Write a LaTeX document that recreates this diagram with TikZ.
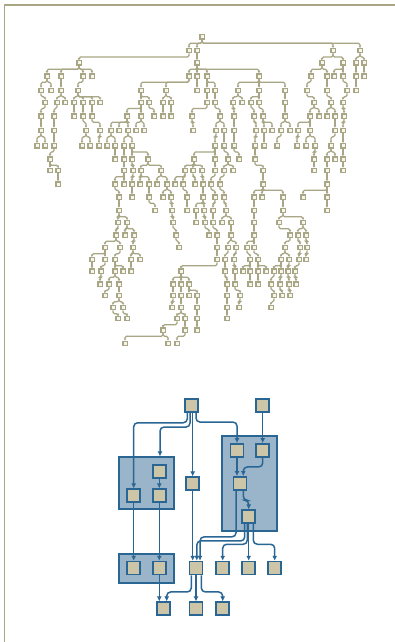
\documentclass[tikz,border=0pt]{standalone}
\usetikzlibrary{arrows.meta}
\definecolor{ol}{RGB}{168,166,132}
\definecolor{olfill}{RGB}{247,246,238}
\definecolor{bl}{RGB}{42,102,148}
\definecolor{clf}{RGB}{154,180,201}
\definecolor{nf}{RGB}{204,197,168}
\newcommand\setrow[3]{\expandafter\gdef\csname rx#1\endcsname{#3}\expandafter\gdef\csname ry#1\endcsname{#2}}
\setrow{0}{37}{202}
\setrow{1}{50.7}{189,197,333,360}
\setrow{2}{63}{79,197,322,343,356,364}
\setrow{3}{76}{47,61,83,92,189,197,207,259,311,327,334,343,356,364}
\setrow{4}{90.5}{41,51,61,78,141,166,197,207,215,238,259,285,307,327,347,356}
\setrow{5}{102.3}{45,57,65,74,83,92,100,141,149,163,171,207,215,233,242,251,259,285,314,331,343}
\setrow{6}{116}{41,54,74,83,92,127,141,154,163,171,192,220,234,254,263,285,310,319,327,335,344}
\setrow{7}{130.5}{41,54,86,100,111,119,128,136,144,193,216,224,234,256,264,272,281,290,298,310,335,343}
\setrow{8}{145.7}{37,45,54,82,90,99,107,115,124,132,215,224,234,255,264,277,297,306,315,331,343}
\setrow{9}{159}{50,115,124,132,148,194,215,228,239,255,314,327,335,343}
\setrow{10}{170.5}{50,58,124,133,141,161,185,193,202,215,224,233,263,314,327,343}
\setrow{11}{184}{58,115,124,132,140,149,157,167,175,183,195,203,211,220,263,327}
\setrow{12}{197}{119,132,149,163,171,187,203,215,224,254,262,283,303,327}
\setrow{13}{210.5}{119,155,172,187,196,204,213,226,254,283,327}
\setrow{14}{222.5}{118,127,173,196,205,213,222,231,254,279,303}
\setrow{15}{235}{116,125,134,176,209,217,231,254,290,298,306}
\setrow{16}{247.5}{105,120,133,179,217,228,236,247,254,285,300,307}
\setrow{17}{259.5}{92,105,115,131,140,217,225,234,250,258,281,289,299,306}
\setrow{18}{271}{92,101,115,123,131,181,225,235,243,250,258,266,274,281,288,295}
\setrow{19}{284}{100,109,119,173,181,189,227,235,250,258,271,280,289,296}
\setrow{20}{295.5}{105,119,173,181,189,197,227,240,274,282,290}
\setrow{21}{307.5}{113,123,172,181,197,227,239,271}
\setrow{22}{318.5}{118,127,177,185,197,227}
\setrow{23}{330}{163,185,197}
\setrow{24}{343.3}{125,168,177}
\begin{document}
\begin{tikzpicture}[x=1pt,y=-1pt,
  tn/.style={draw=ol,fill=olfill,line width=1.3pt,minimum size=4.3pt,inner sep=0pt},
  te/.style={draw=ol,line width=1.25pt,rounded corners=1.5pt,-{Latex[length=2pt,width=2.8pt]}},
  bn/.style={draw=bl,fill=nf,line width=1.5pt,minimum size=13pt,inner sep=0pt},
  cl/.style={draw=bl,fill=clf,line width=1.7pt,inner sep=0pt},
  be/.style={draw=bl,line width=1.5pt,rounded corners=4pt,-{Latex[length=5pt,width=5pt]}},
  frame/.style={draw=ol,line width=1.3pt}]
\useasboundingbox (0,0) rectangle (395,642);
\fill[white] (0,0) rectangle (395,642);
\draw[frame] (4.5,642) -- (4.5,5) -- (395,5);
% ---------- top graph: nodes ----------
\foreach \r in {0,...,24}{
  \edef\ys{\csname ry\r\endcsname}
  \edef\xs{\csname rx\r\endcsname}
  \foreach \x [count=\i] in \xs { \node[tn] (n-\r-\i) at (\x,\ys) {}; }
}
% ---------- top graph: edges (each node to nearest node of the row above) ----------
\foreach \r in {1,...,24}{
  \pgfmathtruncatemacro\prv{\r-1}
  \edef\xs{\csname rx\r\endcsname}
  \edef\pxs{\csname rx\prv\endcsname}
  \foreach \x [count=\i] in \xs {
    \gdef\bestj{1}\gdef\bestd{9999}
    \foreach \px [count=\j] in \pxs {
      \pgfmathsetmacro\mydist{abs(\x-\px)}
      \ifdim\mydist pt<\bestd pt \xdef\bestj{\j}\xdef\bestd{\mydist}\fi
    }
    \draw[te] (n-\prv-\bestj.south) -- ++(0,3.5) -| (n-\r-\i.north);
  }
}
% ---------- bottom graph ----------
\node[cl, minimum width=54.7pt, minimum height=52pt] (K1) at (146.65,483.3) {};
\node[cl, minimum width=54.7pt, minimum height=95pt] (K3) at (249.35,483.2) {};
\node[cl, minimum width=54.7pt, minimum height=29.3pt] (K2) at (146.65,568.65) {};
\node[bn] (A) at (191.3,405.5) {};
\node[bn] (B) at (262.7,405.5) {};
\node[bn] (C1) at (159.3,471.3) {};
\node[bn] (C2) at (133.7,495.7) {};
\node[bn] (C3) at (159.3,495.7) {};
\node[bn] (D) at (192.7,483.7) {};
\node[bn] (E1) at (237,450.3) {};
\node[bn] (E2) at (262.7,450.3) {};
\node[bn] (F) at (240,483.3) {};
\node[bn] (G) at (248.7,516.7) {};
\node[bn] (H1) at (133.7,568) {};
\node[bn] (H2) at (159.3,568) {};
\node[bn] (I) at (196,568) {};
\node[bn] (J) at (222.7,568) {};
\node[bn] (K) at (248.7,568) {};
\node[bn] (L) at (274.7,568) {};
\node[bn] (M) at (163.3,608.7) {};
\node[bn] (N) at (196,608.7) {};
\node[bn] (O) at (222.7,608.7) {};
\draw[be] ([xshift=-4]A.south) -- ++(0,10) -| (C2.north);
\draw[be] ([xshift=-1.3]A.south) -- ++(0,14.3) -| ([xshift=13.35]K1.north);
\draw[be] ([xshift=1.4]A.south) -- (D.north);
\draw[be] ([xshift=4.7]A.south) -- ++(0,9.3) -| (E1.north);
\draw[be] (B.south) -- (E2.north);
\draw[be] (E1.south) -- (E1.south |- F.north);
\draw[be] (E2.south) -- ++(0,9.4) -| ([xshift=3.3]F.north);
\draw[be] ([xshift=3.3]F.south) -- ++(0,9.7) -| (G.north);
\draw[be] ([xshift=-4]F.south) -- ++(0,46.3) -| ([xshift=4]I.north);
\draw[be] ([xshift=-4]G.south) -- ++(0,17) -| ([xshift=0.8]I.north);
\draw[be] ([xshift=-1.4]G.south) -- ++(0,20.3) -| (J.north);
\draw[be] (G.south) -- (K.north);
\draw[be] ([xshift=4.6]G.south) -- ++(0,20.3) -| (L.north);
\draw[be] (D.south) -- (D.south |- I.north);
\draw[be] (C1.south) -- (C3.north);
\draw[be] (C2.south) -- (H1.north);
\draw[be] (C3.south) -- (H2.north);
\draw[be] (H2.south) -- (H2.south |- M.north);
\draw[be] ([xshift=-4.7]I.south) -- ++(0,16.7) -| ([xshift=3.4]M.north);
\draw[be] (I.south) -- (N.north);
\draw[be] ([xshift=5.3]I.south) -- ++(0,16.7) -| (O.north);
\end{tikzpicture}
\end{document}
